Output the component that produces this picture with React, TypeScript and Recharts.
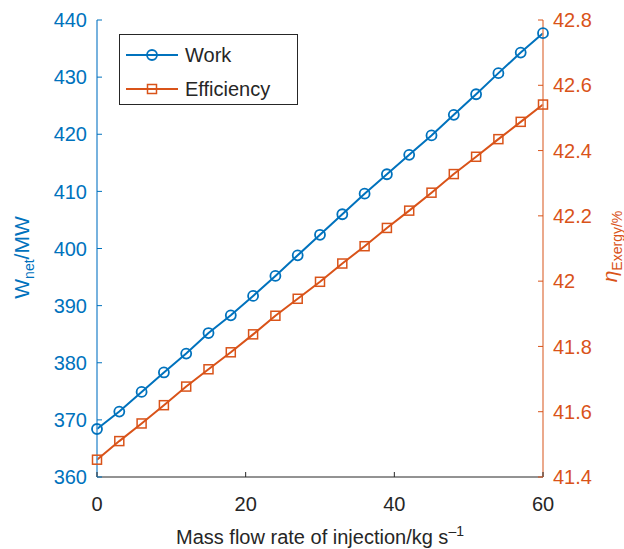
import { LineChart, Line, XAxis, YAxis, Legend } from "recharts";

const massFlow = [0, 3, 6, 9, 12, 15, 18, 21, 24, 27, 30, 33, 36, 39, 42, 45, 48, 51, 54, 57, 60];
const workMW = [
  368.4, 371.45, 374.9, 378.3, 381.6, 385.2, 388.3, 391.7, 395.2, 398.8, 402.4,
  406.0, 409.6, 413.0, 416.4, 419.8, 423.4, 427.0, 430.7, 434.3, 437.7,
];
const efficiency = [
  41.453, 41.51, 41.564, 41.62, 41.677, 41.73, 41.782, 41.837, 41.894, 41.946, 41.998,
  42.054, 42.107, 42.163, 42.216, 42.271, 42.328, 42.381, 42.435, 42.488, 42.541,
];
const flowTicks = [0, 20, 40, 60];
const workTicks = [360, 370, 380, 390, 400, 410, 420, 430, 440];
const effTicks = [41.4, 41.6, 41.8, 42, 42.2, 42.4, 42.6, 42.8];

const BLUE = "#0072BD";
const ORANGE = "#D95319";
const DARK = "#262626";
const FONT = "'Liberation Sans', Arial, Helvetica, sans-serif";

const data = massFlow.map((m, i) => ({ m, work: workMW[i], eff: efficiency[i] }));

function LeftTick({ x, y, payload }: any) {
  return (
    <g>
      <line x1={x + 10} x2={x + 15} y1={y} y2={y} stroke={BLUE} />
      <text x={x} y={y} dy="0.36em" textAnchor="end" fill={BLUE} fontSize={20} fontFamily={FONT}>
        {payload.value}
      </text>
    </g>
  );
}

function RightTick({ x, y, payload }: any) {
  return (
    <g>
      <line x1={x - 10} x2={x - 15} y1={y} y2={y} stroke={ORANGE} />
      <text x={x} y={y} dy="0.36em" textAnchor="start" fill={ORANGE} fontSize={20} fontFamily={FONT}>
        {String(Number(payload.value.toFixed(1)))}
      </text>
    </g>
  );
}

function BottomTick({ x, y, payload }: any) {
  return (
    <g>
      <line x1={x} x2={x} y1={y - 20} y2={y - 25} stroke={DARK} />
      <text x={x} y={y} dy="0.71em" textAnchor="middle" fill={DARK} fontSize={20} fontFamily={FONT}>
        {payload.value}
      </text>
    </g>
  );
}

function TopTick({ x, y }: any) {
  return <line x1={x} x2={x} y1={y} y2={y + 5} stroke={DARK} />;
}

function Square(p: any) {
  return (
    <rect
      key={`sq-${p.index}`}
      x={p.cx - 4.5}
      y={p.cy - 4.5}
      width={9}
      height={9}
      fill="none"
      stroke={ORANGE}
      strokeWidth={1.5}
    />
  );
}

function LeftLabel({ viewBox }: any) {
  const cx = viewBox.x + 11.5;
  const cy = viewBox.y + viewBox.height / 2 + 9;
  return (
    <text x={cx} y={cy} transform={`rotate(-90, ${cx}, ${cy})`} textAnchor="middle" fill={BLUE} fontSize={21} fontFamily={FONT}>
      W
      <tspan dy={5} fontSize={14}>net</tspan>
      <tspan dy={-5}>/MW</tspan>
    </text>
  );
}

function RightLabel({ viewBox }: any) {
  const cx = viewBox.x + 74;
  const cy = viewBox.y + viewBox.height / 2 - 2;
  return (
    <text x={cx} y={cy} transform={`rotate(-90, ${cx}, ${cy})`} textAnchor="middle" fill={ORANGE} fontSize={21} fontFamily={FONT}>
      <tspan fontStyle="italic">η</tspan>
      <tspan dy={5} fontSize={14}>Exergy/%</tspan>
    </text>
  );
}

function BottomLabel({ viewBox }: any) {
  const cx = viewBox.x + viewBox.width / 2;
  const cy = viewBox.y + 67;
  return (
    <text x={cx} y={cy} textAnchor="middle" fill={DARK} fontSize={20} fontFamily={FONT}>
      Mass flow rate of injection/kg s
      <tspan dy={-8} fontSize={14}>–1</tspan>
    </text>
  );
}

function LegendBox() {
  const row = (label: string, color: string, square: boolean, top: number) => (
    <div style={{ position: "absolute", left: 0, top, height: 24, width: "100%" }}>
      <svg width={56} height={24} style={{ position: "absolute", left: 4, top: 0 }}>
        <line x1={2} x2={54} y1={12} y2={12} stroke={color} strokeWidth={2} />
        {square ? (
          <rect x={23.5} y={7.5} width={9} height={9} fill="none" stroke={color} strokeWidth={1.5} />
        ) : (
          <circle cx={28} cy={12} r={5} fill="none" stroke={color} strokeWidth={1.8} />
        )}
      </svg>
      <span style={{ position: "absolute", left: 65, top: 0, lineHeight: "24px" }}>{label}</span>
    </div>
  );
  return (
    <div
      style={{
        position: "relative",
        width: 179,
        height: 71,
        boxSizing: "border-box",
        border: `1px solid ${DARK}`,
        background: "#fff",
        fontFamily: FONT,
        fontSize: 20,
        color: DARK,
      }}
    >
      {row("Work", BLUE, false, 8)}
      {row("Efficiency", ORANGE, true, 42)}
    </div>
  );
}

export default function App() {
  return (
    <div style={{ position: "absolute", left: 0, top: 0, width: 624, height: 549, background: "#fff" }}>
      <LineChart width={624} height={549} data={data} margin={{ top: 20, right: 21, bottom: 32, left: 17 }}>
        <XAxis
          xAxisId="b"
          dataKey="m"
          type="number"
          domain={[0, 60]}
          ticks={flowTicks}
          height={40}
          tickSize={0}
          tickMargin={20}
          tick={<BottomTick />}
          axisLine={{ stroke: DARK }}
          label={<BottomLabel />}
        />
        <XAxis
          xAxisId="t"
          orientation="top"
          dataKey="m"
          type="number"
          domain={[0, 60]}
          ticks={flowTicks}
          height={0}
          tickSize={0}
          tickMargin={0}
          tick={<TopTick />}
          axisLine={{ stroke: DARK }}
        />
        <YAxis
          yAxisId="left"
          domain={[360, 440]}
          ticks={workTicks}
          width={80}
          tickSize={0}
          tickMargin={10}
          tick={<LeftTick />}
          axisLine={{ stroke: "#4A98D3", strokeWidth: 1.5 }}
          label={<LeftLabel />}
        />
        <YAxis
          yAxisId="right"
          orientation="right"
          domain={[41.4, 42.8]}
          ticks={effTicks}
          width={60}
          tickSize={0}
          tickMargin={10}
          tick={<RightTick />}
          axisLine={{ stroke: "#E58C66", strokeWidth: 1.5 }}
          label={<RightLabel />}
        />
        <Legend
          layout="vertical"
          align="center"
          verticalAlign="middle"
          content={<LegendBox />}
          wrapperStyle={{ left: 119, top: 34, width: 179, height: 71 }}
        />
        <Line
          xAxisId="b"
          yAxisId="left"
          dataKey="work"
          name="Work"
          stroke={BLUE}
          strokeWidth={2}
          dot={{ r: 5, stroke: BLUE, strokeWidth: 1.8, fill: "none" }}
          isAnimationActive={false}
        />
        <Line
          xAxisId="b"
          yAxisId="right"
          dataKey="eff"
          name="Efficiency"
          stroke={ORANGE}
          strokeWidth={2}
          dot={Square}
          isAnimationActive={false}
        />
      </LineChart>
    </div>
  );
}
